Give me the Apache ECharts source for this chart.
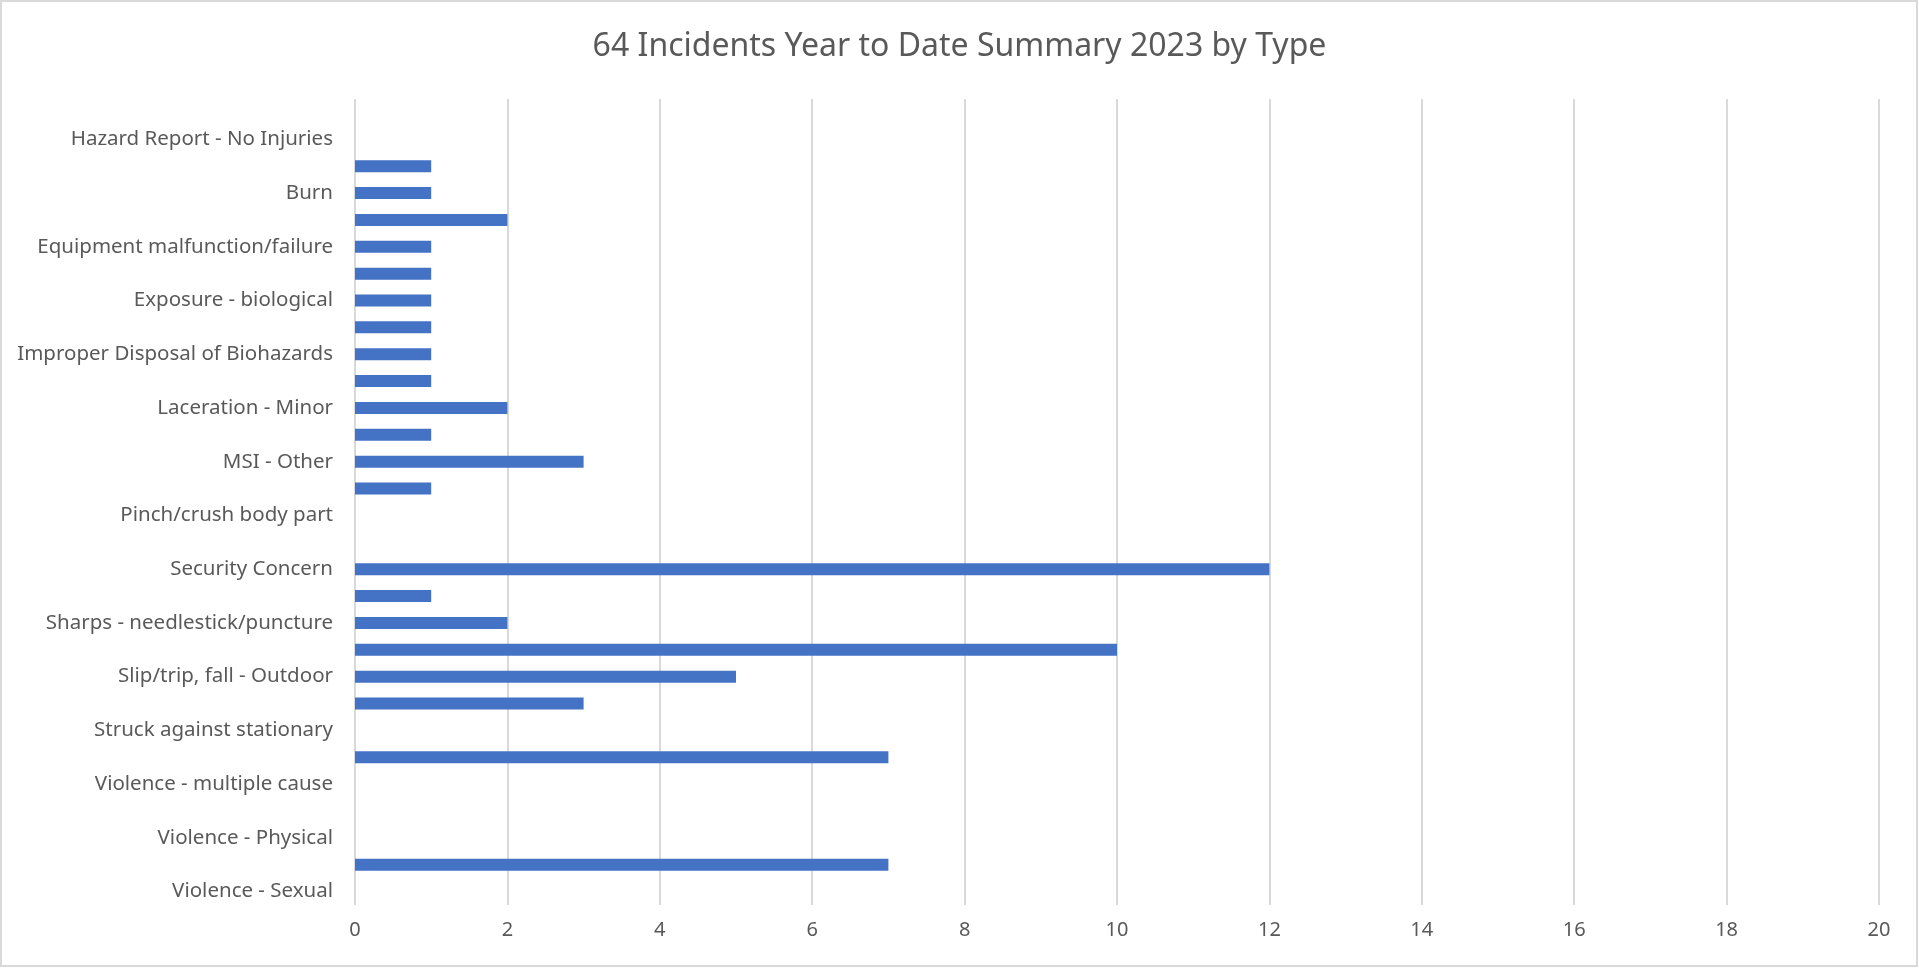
<!DOCTYPE html>
<html>
<head>
<meta charset="utf-8">
<title>64 Incidents Year to Date Summary 2023 by Type</title>
<script src="https://cdn.jsdelivr.net/npm/echarts@6/dist/echarts.min.js"></script>
<style>
  html, body { margin: 0; padding: 0; background: #fff; }
  #chart { width: 1919px; height: 968px; }
</style>
</head>
<body>
<div id="chart"></div>
<script>
// incident types, top to bottom (only every other one gets a label, like the original)
const incidentTypes = [
    "Near Miss",
    "Hazard Report - No Injuries",
    "Bite/Scratch",
    "Burn",
    "Caught in/between",
    "Equipment malfunction/failure",
    "Ergonomic",
    "Exposure - biological",
    "Exposure - chemical",
    "Improper Disposal of Biohazards",
    "Infection Control",
    "Laceration - Minor",
    "MSI - Lifting",
    "MSI - Other",
    "MSI - Repetitive motion",
    "Pinch/crush body part",
    "Property Damage",
    "Security Concern",
    "Sharps - exposure",
    "Sharps - needlestick/puncture",
    "Slip/trip, fall - Indoor",
    "Slip/trip, fall - Outdoor",
    "Struck against moving",
    "Struck against stationary",
    "Struck by object",
    "Violence - multiple cause",
    "Violence - Patient",
    "Violence - Physical",
    "Violence - Psychological",
    "Violence - Sexual"
];

const incidentCounts = [
    0, 0, 1, 1, 2, 1, 1, 1, 1, 1,
    1, 2, 1, 3, 1, 0, 0, 12, 1, 2,
    10, 5, 3, 0, 7, 0, 0, 0, 7, 0
];

const countTicks = [0, 20, 2]; // min, max, step

const textColor = "#595959";
const fontName = "'Noto Sans', 'Open Sans', sans-serif";

const chartEl = document.getElementById("chart");
const chart = echarts.init(chartEl, null, { renderer: "canvas" });

chart.setOption({
    backgroundColor: "#ffffff",
    animation: false,
    title: {
        text: "64 Incidents Year to Date Summary 2023 by Type",
        left: "center",
        top: 26,
        textStyle: { color: textColor, fontFamily: fontName, fontSize: 32, fontWeight: "normal" }
    },
    grid: { left: 355, right: 40, top: 99, bottom: 63, containLabel: false },
    xAxis: {
        type: "value",
        min: countTicks[0],
        max: countTicks[1],
        interval: countTicks[2],
        axisLine: { show: false },
        axisTick: { show: false },
        splitLine: { show: true, lineStyle: { color: "#d9d9d9", width: 2 } },
        axisLabel: { color: textColor, fontFamily: fontName, fontSize: 20, margin: 15 }
    },
    yAxis: {
        type: "category",
        inverse: true,
        data: incidentTypes,
        axisLine: { show: false },
        axisTick: { show: false },
        splitLine: { show: false },
        axisLabel: {
            color: textColor,
            fontFamily: fontName,
            fontSize: 20.5,
            margin: 22,
            interval: (idx) => idx % 2 === 1
        }
    },
    series: [{
        type: "bar",
        data: incidentCounts,
        barWidth: 12,
        itemStyle: { color: "#4472c4" }
    }],
    graphic: [{
        type: "rect",
        shape: { x: 1, y: 1, width: 1916, height: 965 },
        style: { fill: "none", stroke: "#d9d9d9", lineWidth: 2 },
        silent: true
    }]
});
</script>
</body>
</html>
